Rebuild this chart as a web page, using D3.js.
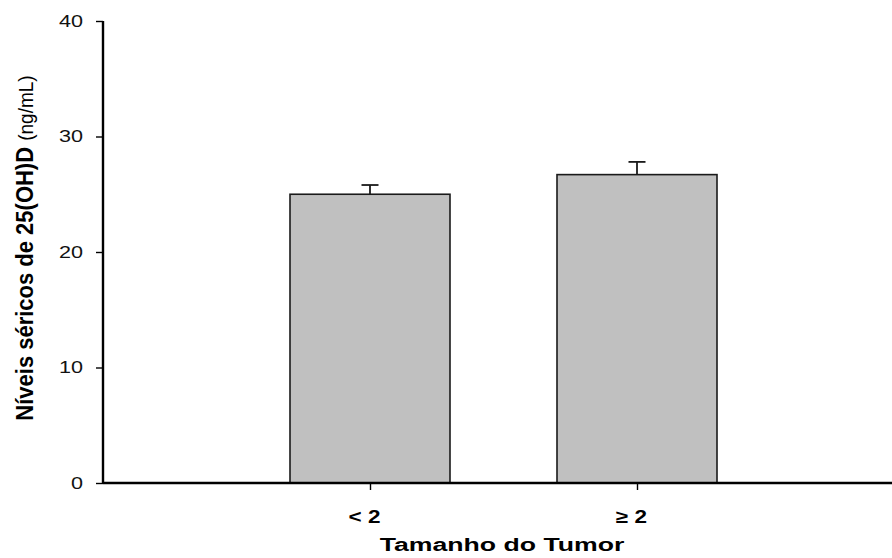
<!DOCTYPE html>
<html>
<head>
<meta charset="utf-8">
<script src="https://cdn.jsdelivr.net/npm/d3@7"></script>
<style>
  body { margin: 0; background: #fff; }
  svg { display: block; font-family: "Liberation Sans", Arial, sans-serif; }
</style>
</head>
<body>
<div id="chart"></div>
<script>
// 데이터
const categories = ['< 2', '≥ 2'];
const means = [25.0, 26.7];
const errors = [0.8, 1.1];
const yTicks = [0, 10, 20, 30, 40];

const width = 892, height = 558;

const svg = d3.select('#chart').append('svg')
    .attr('width', width)
    .attr('height', height);

// 스케일
const x = d3.scaleLinear().domain([0, 3]).range([103, 904]);
const y = d3.scaleLinear().domain([0, 40]).range([483, 21]);
const barWidth = 160;

// 막대
svg.selectAll('rect.bar')
    .data(means)
    .enter()
    .append('rect')
    .attr('class', 'bar')
    .attr('x', (d, i) => x(i + 1) - barWidth / 2)
    .attr('y', d => y(d))
    .attr('width', barWidth)
    .attr('height', d => y(0) - y(d))
    .attr('fill', '#c0c0c0')
    .attr('stroke', '#1a1a1a')
    .attr('stroke-width', 1.6);

// 오차 막대 (위쪽만)
const errG = svg.append('g').attr('stroke', '#1a1a1a').attr('stroke-width', 1.8);
means.forEach((m, i) => {
    const cx = x(i + 1);
    errG.append('line')
        .attr('x1', cx).attr('x2', cx)
        .attr('y1', y(m)).attr('y2', y(m + errors[i]));
    errG.append('line')
        .attr('x1', cx - 8.5).attr('x2', cx + 8.5)
        .attr('y1', y(m + errors[i])).attr('y2', y(m + errors[i]));
});

// Y축
const yAxis = svg.append('g')
    .attr('transform', `translate(${x(0)},0)`)
    .call(d3.axisLeft(y).tickValues(yTicks).tickSize(7).tickFormat(d3.format('d')));
yAxis.select('.domain').attr('stroke', '#000').attr('stroke-width', 2.4).attr('d', `M0,${y(40)}V${y(0)}`);
yAxis.selectAll('.tick line').attr('stroke', '#000').attr('stroke-width', 1.4);
yAxis.selectAll('.tick text')
    .attr('x', 0)
    .attr('transform', `translate(-20,0) scale(1.35,1)`)
    .attr('font-size', '16px')
    .attr('fill', '#111')
    .attr('font-family', '"Liberation Sans", Arial, sans-serif');

// X축
const xAxis = svg.append('g')
    .attr('transform', `translate(0,${y(0)})`)
    .call(d3.axisBottom(x).tickValues([1, 2]).tickSize(7)
        .tickFormat((d, i) => categories[i]));
xAxis.select('.domain').attr('stroke', '#000').attr('stroke-width', 2.4).attr('d', `M${x(0)},0H${width}`);
xAxis.selectAll('.tick line').attr('stroke', '#000').attr('stroke-width', 1.4);
xAxis.selectAll('.tick text')
    .attr('y', 40)
    .attr('dy', 0)
    .attr('transform', 'translate(-6,0) scale(1.25,1)')
    .attr('font-size', '18px')
    .attr('font-weight', 'bold')
    .attr('fill', '#000')
    .attr('font-family', '"Liberation Sans", Arial, sans-serif');

// 축 제목
svg.append('text')
    .attr('transform', 'translate(502,551) scale(1.48,1)')
    .attr('text-anchor', 'middle')
    .attr('font-size', '18px')
    .attr('font-weight', 'bold')
    .text('Tamanho do Tumor');

const yTitle = svg.append('text')
    .attr('transform', `translate(32.5,248) scale(1.1,1) rotate(-90)`)
    .attr('text-anchor', 'middle');
yTitle.append('tspan')
    .attr('font-size', '22px')
    .attr('font-weight', 'bold')
    .text('Níveis séricos de 25(OH)D ');
yTitle.append('tspan')
    .attr('font-size', '19px')
    .text('(ng/mL)');
</script>
</body>
</html>
